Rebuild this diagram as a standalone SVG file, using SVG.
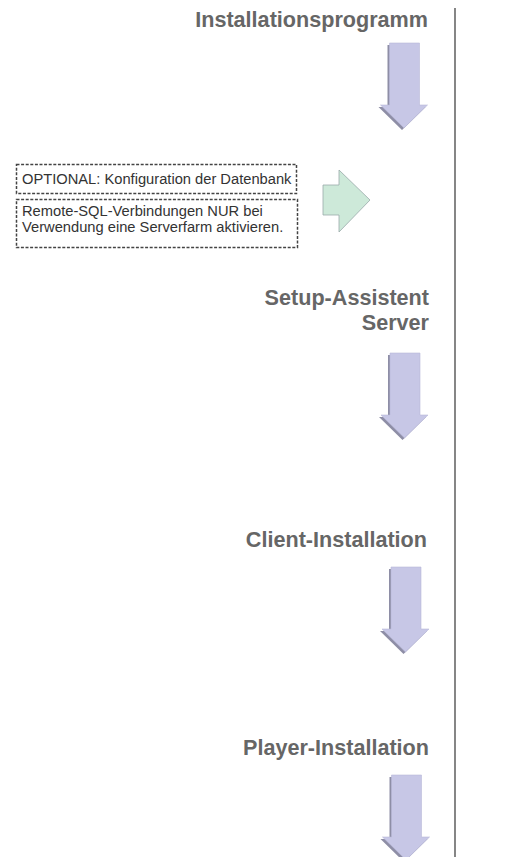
<svg xmlns="http://www.w3.org/2000/svg" width="532" height="857" viewBox="0 0 532 857">
<style>
.title{font-family:"Liberation Sans",Arial,sans-serif;font-weight:bold;font-size:21.6px;fill:#666;text-anchor:end}
.note{font-family:"Liberation Sans",Arial,sans-serif;font-size:14.7px;fill:#333}
.box{fill:#fff;stroke:#444;stroke-width:1.5;stroke-dasharray:3 1.6}
.shadow{fill:#8e8ea6}
.down{fill:#c7c7e6;stroke:#b8b8d8;stroke-width:0.6}
.right{fill:#cde9d9;stroke:#9aa;stroke-width:0.8}
</style>
<defs>
<g id="arrowShape">
<polygon points="0,0 30,0 30,62 38,62 14.5,85 -9,62 0,62"/>
</g>
</defs>
<rect width="532" height="857" fill="#fff"/>
<g id="connectors">
<line x1="455" y1="8" x2="455" y2="857" stroke="#444" stroke-width="1.3"/>
</g>
<g id="node-installationsprogramm">
<text class="title" x="428" y="27">Installationsprogramm</text>
</g>
<g id="arrow1">
<use href="#arrowShape" class="shadow" x="387.5" y="45"/>
<use href="#arrowShape" class="down" x="389.5" y="43"/>
</g>
<g id="node-optional">
<rect class="box" x="16.5" y="164.5" width="280" height="29"/>
<text class="note" x="22" y="184">OPTIONAL: Konfiguration der Datenbank</text>
</g>
<g id="node-remote">
<rect class="box" x="16.5" y="199.5" width="281" height="48"/>
<text class="note" x="22" y="216">Remote-SQL-Verbindungen NUR bei</text>
<text class="note" x="22" y="232">Verwendung eine Serverfarm aktivieren.</text>
</g>
<g id="arrow-right">
<polygon class="right" points="323,185 339,185 339,170 370,200 339,232 339,215 323,215"/>
</g>
<g id="node-setup">
<text class="title" x="429" y="305">Setup-Assistent</text>
<text class="title" x="429" y="330">Server</text>
</g>
<g id="arrow2">
<use href="#arrowShape" class="shadow" x="388" y="355"/>
<use href="#arrowShape" class="down" x="390" y="353"/>
</g>
<g id="node-client">
<text class="title" x="427" y="547">Client-Installation</text>
</g>
<g id="arrow3">
<use href="#arrowShape" class="shadow" x="389" y="569"/>
<use href="#arrowShape" class="down" x="391" y="567"/>
</g>
<g id="node-player">
<text class="title" x="429" y="755">Player-Installation</text>
</g>
<g id="arrow4">
<use href="#arrowShape" class="shadow" x="389.5" y="777"/>
<use href="#arrowShape" class="down" x="391.5" y="775"/>
</g>
</svg>
